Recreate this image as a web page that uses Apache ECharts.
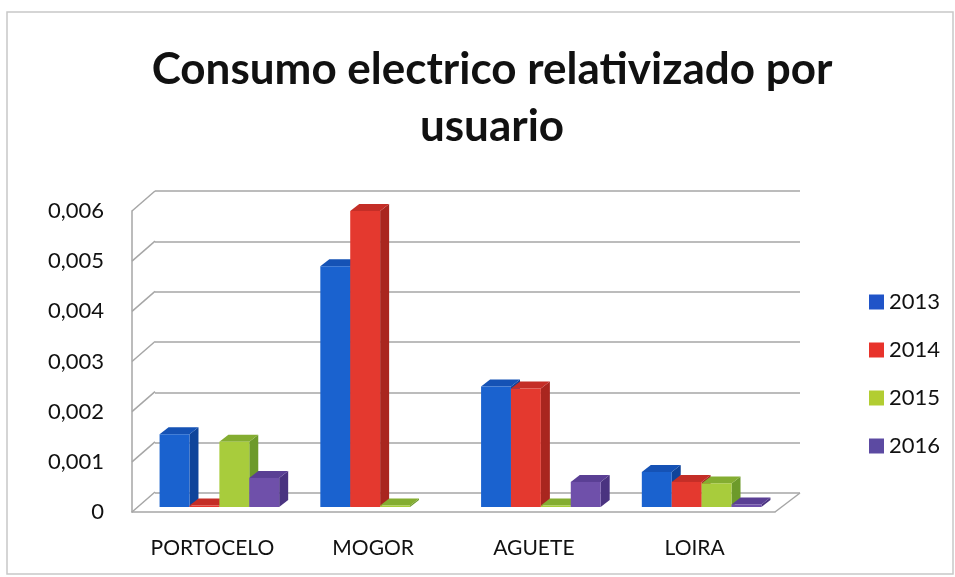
<!DOCTYPE html>
<html>
<head>
<meta charset="utf-8">
<script src="https://cdn.jsdelivr.net/npm/echarts@6/dist/echarts.min.js"></script>
<style>
  html, body { margin: 0; padding: 0; background: #fff; }
  #chart { width: 955px; height: 577px; }
</style>
</head>
<body>
<div id="chart"></div>
<script>
var categories = ["PORTOCELO", "MOGOR", "AGUETE", "LOIRA"];
var years = ["2013", "2014", "2015", "2016"];
var yTicks = [0, 0.001, 0.002, 0.003, 0.004, 0.005, 0.006];

var v2013 = [0.00145, 0.0048, 0.0024, 0.0007];
var v2014 = [0.00003, 0.0059, 0.00236, 0.0005];
var v2015 = [0.0013, 0.00003, 0.00003, 0.00047];
var v2016 = [0.00058, null, 0.0005, 0.00005];

var chart = echarts.init(document.getElementById("chart"));

// colores de las caras (frente, lado, arriba)
var palette = [
  { front: "#1a62cf", side: "#0f449a", top: "#1552b5", legend: "#2054c8" },
  { front: "#e4392f", side: "#a9261f", top: "#c42e27", legend: "#e8332b" },
  { front: "#a8cc3c", side: "#6d9a2a", top: "#84ad31", legend: "#b2cd32" },
  { front: "#6f50aa", side: "#4a3380", top: "#5a3f94", legend: "#5c4aa2" }
];

function barRender(idx) {
  var c = palette[idx];
  return function(params, api) {
    var v = api.value(1);
    if (v == null || isNaN(v)) return;
    var base = api.coord([api.value(0), 0]);
    var top = api.coord([api.value(0), v]);
    var band = api.size([1, 0])[0];
    var w = band * 0.186;
    var x = base[0] - 2 * w + idx * w + 7;
    var yb = base[1] - 5, yt = top[1] - 5;
    var dx = 9, dy = -7;
    return {
      type: "group",
      children: [
        { type: "polygon", shape: { points: [[x + w, yb], [x + w + dx, yb + dy], [x + w + dx, yt + dy], [x + w, yt]] }, style: { fill: c.side } },
        { type: "polygon", shape: { points: [[x, yt], [x + dx, yt + dy], [x + w + dx, yt + dy], [x + w, yt]] }, style: { fill: c.top } },
        { type: "rect", shape: { x: x, y: yt, width: w, height: yb - yt }, style: { fill: c.front } }
      ]
    };
  };
}

function wallRender(params, api) {
  var cs = params.coordSys;
  var y = api.coord([0, api.value(1)])[1];
  var lines = [
    { type: "line", shape: { x1: cs.x, y1: y, x2: cs.x + 23, y2: y - 20 }, style: { stroke: "#a6a6a6", lineWidth: 1.5 } }
  ];
  if (api.value(1) === 0) {
    lines.push({ type: "line", shape: { x1: cs.x + cs.width, y1: y, x2: cs.x + cs.width + 25, y2: y - 19 }, style: { stroke: "#a6a6a6", lineWidth: 1.5 } });
  }
  return { type: "group", children: lines };
}

var allValues = [v2013, v2014, v2015, v2016];
var series = years.map(function(y, i) {
  return {
    name: y,
    type: "custom",
    xAxisIndex: 0,
    yAxisIndex: 0,
    itemStyle: { color: palette[i].legend },
    renderItem: barRender(i),
    data: allValues[i].map(function(v, j) { return [j, v]; }),
    z: 3 + i
  };
});
series.unshift({
  name: "pared",
  type: "custom",
  xAxisIndex: 0,
  yAxisIndex: 0,
  silent: true,
  renderItem: wallRender,
  data: yTicks.map(function(v) { return [0, v]; }),
  z: 1
});

var option = {
  backgroundColor: "#fff",
  animation: false,
  textStyle: { fontFamily: "Lato" },
  title: {
    text: "Consumo electrico relativizado por\nusuario",
    left: 487,
    textAlign: "center",
    top: 36,
    textStyle: {
      fontFamily: "Lato",
      fontSize: 44,
      fontWeight: "bold",
      color: "#111",
      lineHeight: 57
    }
  },
  legend: {
    data: years,
    orient: "vertical",
    left: 864,
    top: 286,
    icon: "rect",
    itemWidth: 15,
    itemHeight: 15,
    itemGap: 26,
    textStyle: { fontFamily: "Lato", fontSize: 22, color: "#111", lineHeight: 22 }
  },
  graphic: [
    { type: "rect", shape: { x: 7, y: 12, width: 946, height: 562 }, style: { fill: null, stroke: "#c8c8c8", lineWidth: 1.5 }, silent: true }
  ],
  grid: [
    { left: 132, right: 180, top: 211, bottom: 65 },
    { left: 155, right: 155, top: 191, bottom: 84 }
  ],
  xAxis: [
    {
      type: "category",
      gridIndex: 0,
      data: categories,
      axisLine: { lineStyle: { color: "#a6a6a6", width: 1.5 } },
      axisTick: { show: false },
      axisLabel: { interval: 0, fontFamily: "Lato", fontSize: 21, color: "#111", margin: 26 }
    },
    {
      type: "category",
      gridIndex: 1,
      data: categories,
      show: false
    }
  ],
  yAxis: [
    {
      type: "value",
      gridIndex: 0,
      min: 0,
      max: 0.006,
      interval: 0.001,
      axisLine: { show: true, lineStyle: { color: "#a6a6a6", width: 1.5 } },
      axisTick: { show: false },
      splitLine: { show: false },
      axisLabel: {
        fontFamily: "Lato",
        fontSize: 22,
        color: "#111",
        margin: 28,
        formatter: function(v) { return v === 0 ? "0" : v.toFixed(3).replace(".", ","); }
      }
    },
    {
      type: "value",
      gridIndex: 1,
      min: 0,
      max: 0.006,
      interval: 0.001,
      axisLine: { show: false },
      axisTick: { show: false },
      axisLabel: { show: false },
      splitLine: { show: true, lineStyle: { color: "#a6a6a6", width: 1.5 } }
    }
  ],
  series: series
};

chart.setOption(option);
window.addEventListener("resize", chart.resize);
</script>
</body>
</html>
